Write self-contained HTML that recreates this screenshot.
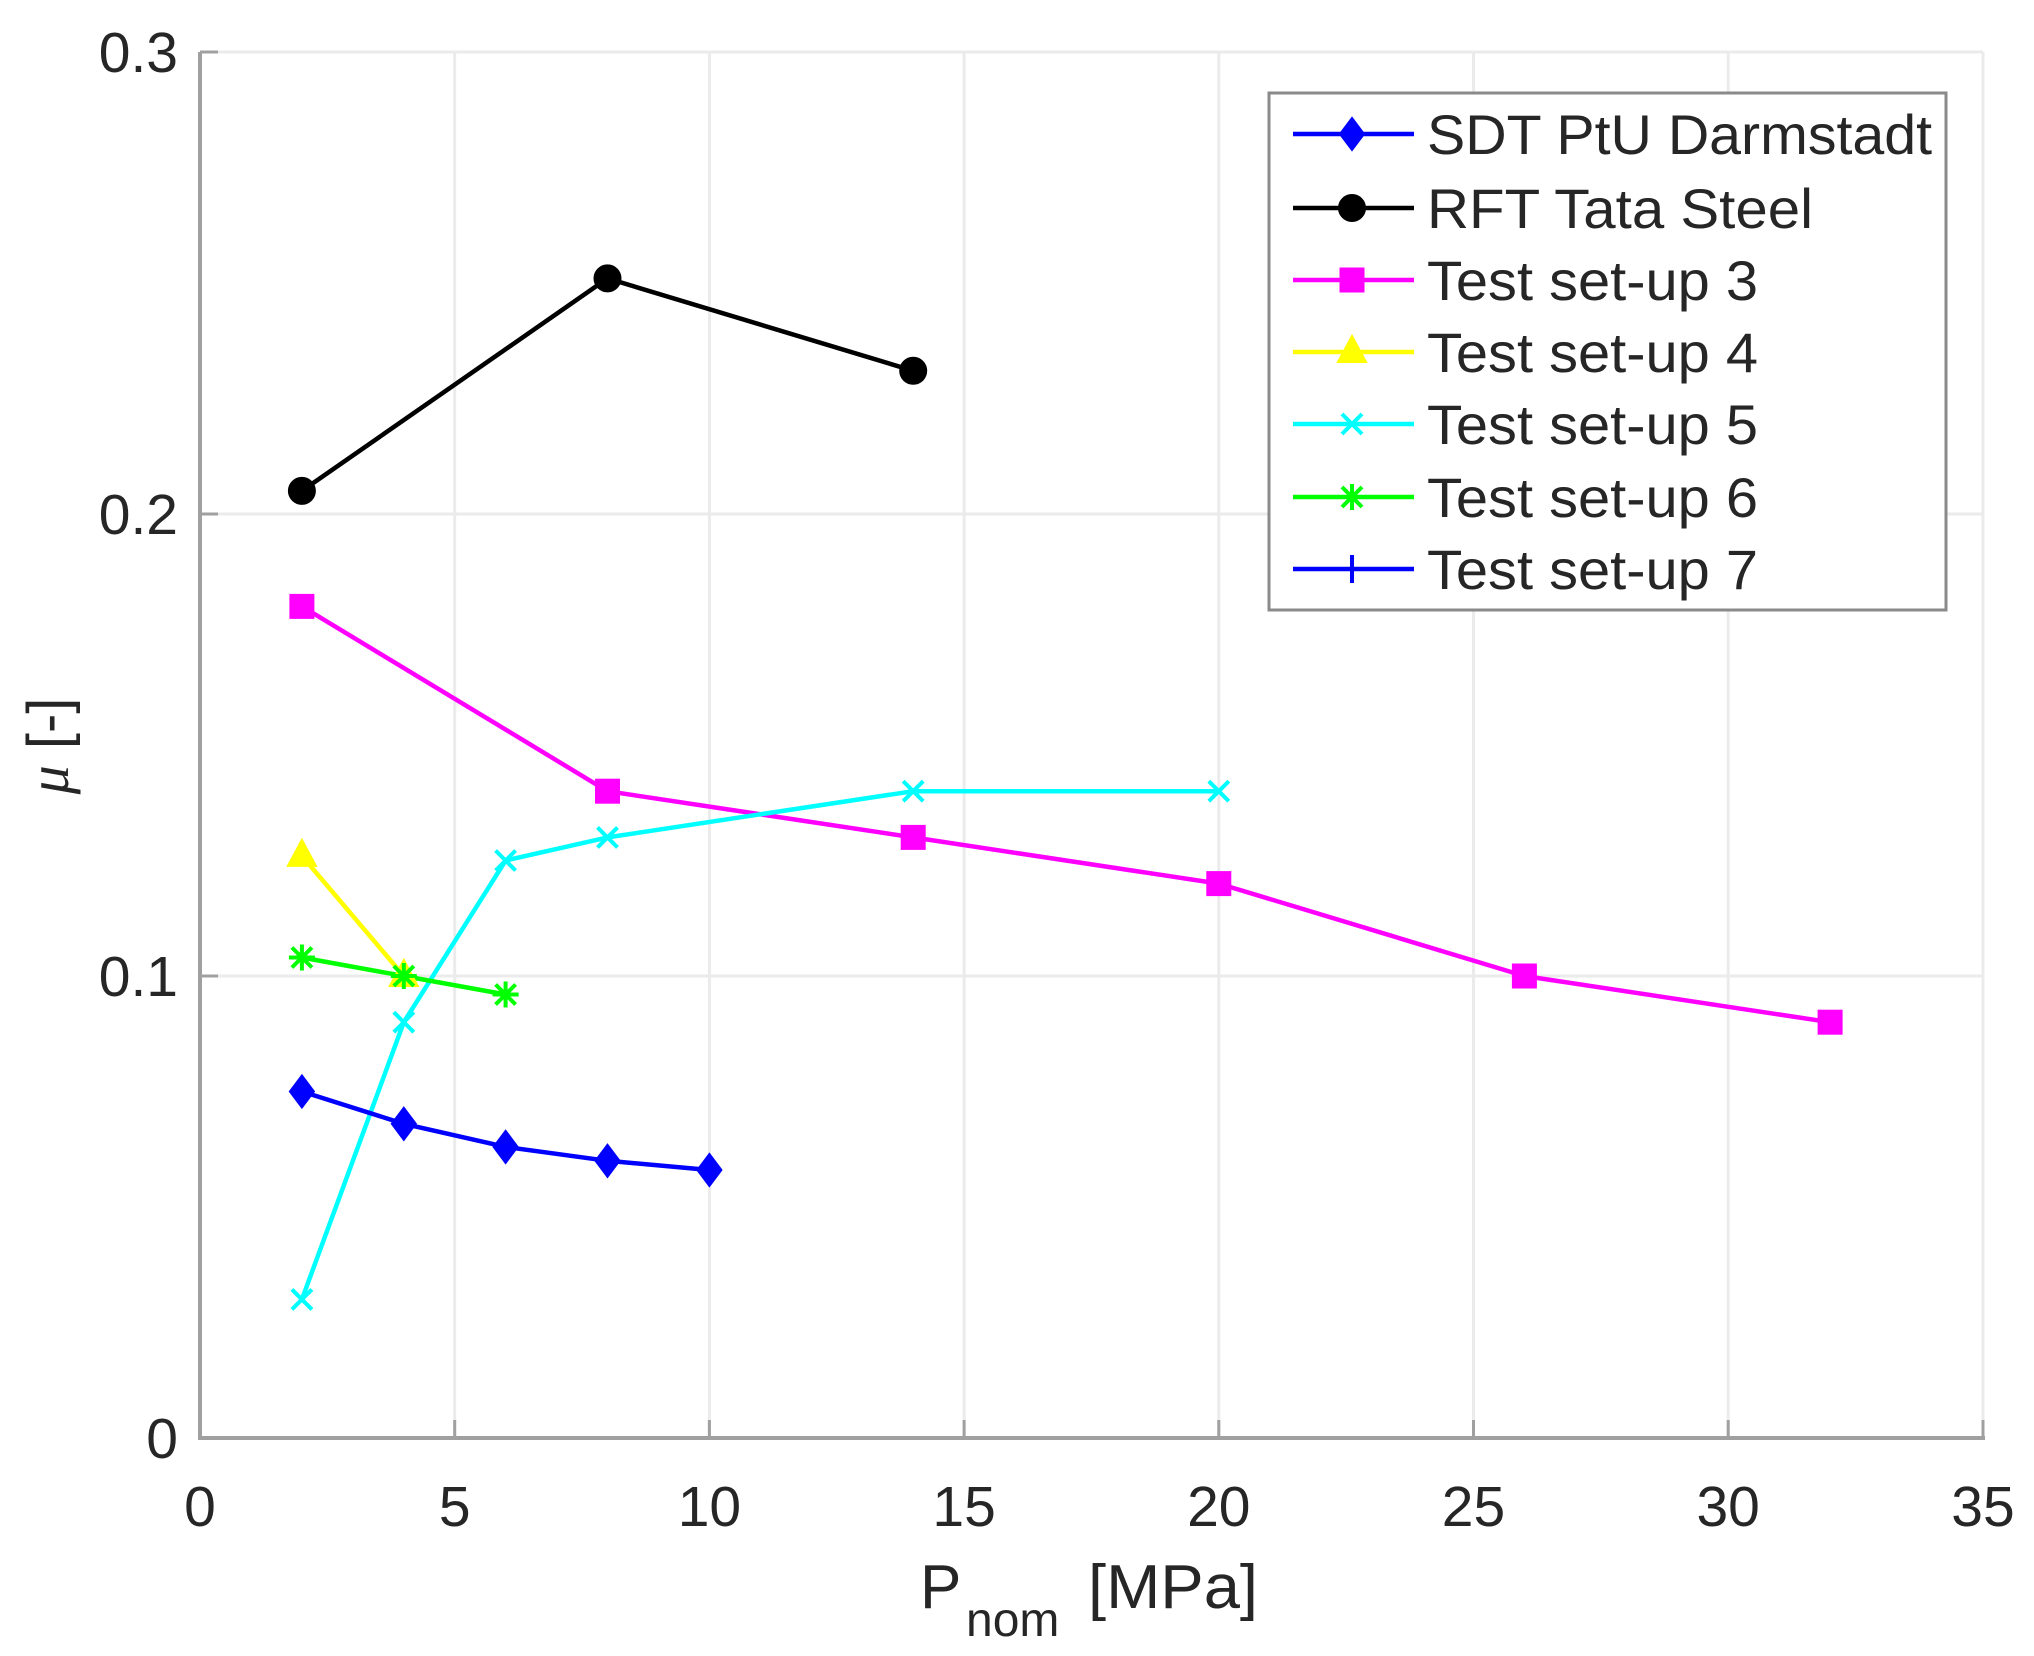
<!DOCTYPE html>
<html><head><meta charset="utf-8"><style>
html,body{margin:0;padding:0;background:#fff;}
svg{display:block;}
text{font-family:"Liberation Sans",Arial,sans-serif;fill:#262626;}
</style></head><body>
<svg width="2034" height="1656" viewBox="0 0 2034 1656" xmlns="http://www.w3.org/2000/svg">
<defs>
<g id="dia"><polygon points="0,-16 12,0 0,16 -12,0" fill="#0000ff" stroke="#0000ff" stroke-width="2"/></g>
<g id="cir"><circle r="13" fill="#000" stroke="#000" stroke-width="2"/></g>
<g id="sq"><rect x="-11" y="-11" width="22" height="22" fill="#ff00ff" stroke="#ff00ff" stroke-width="3"/></g>
<g id="tri"><polygon points="0,-16 14,10 -14,10" fill="#ffff00" stroke="#ffff00" stroke-width="2"/></g>
<g id="xx"><path d="M-10,-10L10,10M-10,10L10,-10" stroke="#00ffff" stroke-width="4"/></g>
<g id="st"><path d="M-10,-10L10,10M-10,10L10,-10M0,-13V13M-13,0H13" stroke="#00ff00" stroke-width="4"/></g>
<g id="pl"><path d="M0,-14V14M-14,0H14" stroke="#0000ff" stroke-width="4"/></g>
</defs>
<g stroke="#ebebeb" stroke-width="3">
<line x1="454.7" y1="52" x2="454.7" y2="1438"/>
<line x1="709.4" y1="52" x2="709.4" y2="1438"/>
<line x1="964.1" y1="52" x2="964.1" y2="1438"/>
<line x1="1218.8" y1="52" x2="1218.8" y2="1438"/>
<line x1="1473.5" y1="52" x2="1473.5" y2="1438"/>
<line x1="1728.2" y1="52" x2="1728.2" y2="1438"/>
<line x1="200" y1="976" x2="1983" y2="976"/>
<line x1="200" y1="514" x2="1983" y2="514"/>
<line x1="200" y1="52" x2="1983" y2="52"/>
<line x1="1983" y1="52" x2="1983" y2="1438"/>
</g>
<g stroke="#a0a0a0" stroke-width="4" fill="none">
<line x1="200" y1="52" x2="200" y2="1438"/>
<line x1="198" y1="1438" x2="1985" y2="1438"/>
</g>
<g stroke="#a0a0a0" stroke-width="3">
<line x1="454.7" y1="1438" x2="454.7" y2="1420"/>
<line x1="709.4" y1="1438" x2="709.4" y2="1420"/>
<line x1="964.1" y1="1438" x2="964.1" y2="1420"/>
<line x1="1218.8" y1="1438" x2="1218.8" y2="1420"/>
<line x1="1473.5" y1="1438" x2="1473.5" y2="1420"/>
<line x1="1728.2" y1="1438" x2="1728.2" y2="1420"/>
<line x1="1983" y1="1438" x2="1983" y2="1420"/>
<line x1="200" y1="976" x2="218" y2="976"/>
<line x1="200" y1="514" x2="218" y2="514"/>
<line x1="200" y1="52" x2="218" y2="52"/>
</g>
<g font-size="57" text-anchor="middle">
<text x="200" y="1526">0</text>
<text x="454.7" y="1526">5</text>
<text x="709.4" y="1526">10</text>
<text x="964.1" y="1526">15</text>
<text x="1218.8" y="1526">20</text>
<text x="1473.5" y="1526">25</text>
<text x="1728.2" y="1526">30</text>
<text x="1983" y="1526">35</text>
</g>
<g font-size="57" text-anchor="end">
<text x="178" y="1458">0</text>
<text x="178" y="996">0.1</text>
<text x="178" y="534">0.2</text>
<text x="178" y="72">0.3</text>
</g>
<text x="920" y="1608" font-size="62">P</text>
<text x="966" y="1636" font-size="48">nom</text>
<text x="1088" y="1608" font-size="62" textLength="170" lengthAdjust="spacingAndGlyphs">[MPa]</text>
<text transform="translate(68,746) rotate(-90)" font-size="58" text-anchor="middle"><tspan font-family="Liberation Serif" font-style="italic">μ</tspan> [-]</text>
<g fill="none" stroke-width="4.5" stroke-linejoin="round">
<polyline stroke="#000" points="301.9,490.9 607.5,278.4 913.2,370.8"/>
<polyline stroke="#ff00ff" points="301.9,606.4 607.5,791.2 913.2,837.4 1218.8,883.6 1524.4,976 1830.1,1022.2"/>
<polyline stroke="#ffff00" points="301.9,855.9 403.8,976"/>
<polyline stroke="#00ffff" points="301.9,1299.4 403.8,1022.2 505.6,860.5 607.5,837.4 913.2,791.2 1218.8,791.2"/>
<polyline stroke="#00ff00" points="301.9,957.5 403.8,976 505.6,994.5"/>
<polyline stroke="#0000ff" points="301.9,1091.5 403.8,1123.8 505.6,1146.9 607.5,1160.8 709.4,1170"/>
</g>
<use href="#cir" x="301.9" y="490.9"/><use href="#cir" x="607.5" y="278.4"/><use href="#cir" x="913.2" y="370.8"/>
<use href="#sq" x="301.9" y="606.4"/><use href="#sq" x="607.5" y="791.2"/><use href="#sq" x="913.2" y="837.4"/><use href="#sq" x="1218.8" y="883.6"/><use href="#sq" x="1524.4" y="976"/><use href="#sq" x="1830.1" y="1022.2"/>
<use href="#tri" x="301.9" y="855.9"/><use href="#tri" x="403.8" y="976"/>
<use href="#xx" x="301.9" y="1299.4"/><use href="#xx" x="403.8" y="1022.2"/><use href="#xx" x="505.6" y="860.5"/><use href="#xx" x="607.5" y="837.4"/><use href="#xx" x="913.2" y="791.2"/><use href="#xx" x="1218.8" y="791.2"/>
<use href="#st" x="301.9" y="957.5"/><use href="#st" x="403.8" y="976"/><use href="#st" x="505.6" y="994.5"/>
<use href="#dia" x="301.9" y="1091.5"/><use href="#dia" x="403.8" y="1123.8"/><use href="#dia" x="505.6" y="1146.9"/><use href="#dia" x="607.5" y="1160.8"/><use href="#dia" x="709.4" y="1170"/>
<rect x="1269" y="93" width="677" height="517" fill="#fff" stroke="#8a8a8a" stroke-width="3"/>
<g stroke-width="4.5">
<line x1="1293" y1="134" x2="1414" y2="134" stroke="#0000ff"/>
<line x1="1293" y1="208" x2="1414" y2="208" stroke="#000"/>
<line x1="1293" y1="280" x2="1414" y2="280" stroke="#ff00ff"/>
<line x1="1293" y1="352" x2="1414" y2="352" stroke="#ffff00"/>
<line x1="1293" y1="424" x2="1414" y2="424" stroke="#00ffff"/>
<line x1="1293" y1="497" x2="1414" y2="497" stroke="#00ff00"/>
<line x1="1293" y1="569" x2="1414" y2="569" stroke="#0000ff"/>
</g>
<use href="#dia" x="1352" y="134"/><use href="#cir" x="1352" y="208"/><use href="#sq" x="1352" y="280"/><use href="#tri" x="1352" y="352"/><use href="#xx" x="1352" y="424"/><use href="#st" x="1352" y="497"/><use href="#pl" x="1352" y="569"/>
<g font-size="56">
<text x="1427" y="154" textLength="505" lengthAdjust="spacingAndGlyphs">SDT PtU Darmstadt</text>
<text x="1427" y="228" textLength="386" lengthAdjust="spacingAndGlyphs">RFT Tata Steel</text>
<text x="1427" y="300" textLength="331" lengthAdjust="spacingAndGlyphs">Test set-up 3</text>
<text x="1427" y="372" textLength="331" lengthAdjust="spacingAndGlyphs">Test set-up 4</text>
<text x="1427" y="444" textLength="331" lengthAdjust="spacingAndGlyphs">Test set-up 5</text>
<text x="1427" y="517" textLength="331" lengthAdjust="spacingAndGlyphs">Test set-up 6</text>
<text x="1427" y="589" textLength="331" lengthAdjust="spacingAndGlyphs">Test set-up 7</text>
</g>
</svg>
</body></html>
